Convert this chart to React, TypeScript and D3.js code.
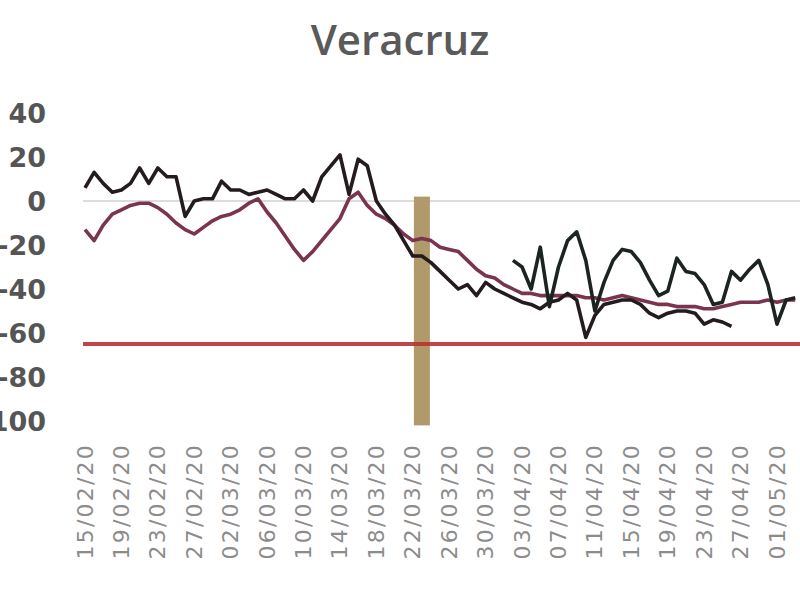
import React from "react";
import * as d3 from "d3";

const title = "Veracruz";
const startLabel = "15/02/20";
const tickLabels = [
  "15/02/20", "19/02/20", "23/02/20", "27/02/20", "02/03/20", "06/03/20",
  "10/03/20", "14/03/20", "18/03/20", "22/03/20", "26/03/20", "30/03/20",
  "03/04/20", "07/04/20", "11/04/20", "15/04/20", "19/04/20", "23/04/20",
  "27/04/20", "01/05/20",
];
const yTicks = [40, 20, 0, -20, -40, -60, -80, -100];

// Daily values starting 15/02/20 (black line)
const seriesA = [
  6, 13, 8, 4, 5, 8, 15, 8, 15, 11, 11, -7, 0, 1, 1, 9, 5, 5, 3, 4,
  5, 3, 1, 1, 5, 0, 11, 16, 21, 3, 19, 16, 0, -6, -11, -18, -25, -25, -28, -32,
  -36, -40, -38, -43, -37, -40, -42, -44, -46, -47, -49, -46, -45, -42, -45, -62,
  -52, -47, -46, -45, -45, -47, -51, -53, -51, -50, -50, -51, -56, -54, -55, -57,
];
// Daily values starting 15/02/20 (maroon line)
const seriesM = [
  -13, -18, -11, -6, -4, -2, -1, -1, -3, -6, -10, -13, -15, -12, -9, -7, -6, -4, -1, 1,
  -5, -10, -16, -22, -27, -23, -18, -13, -8, 1, 4, -2, -6, -8, -11, -15, -18, -17, -18, -21,
  -22, -23, -27, -31, -34, -35, -38, -40, -42, -42, -43, -43, -43, -43, -43, -44, -44, -45, -44, -43,
  -44, -45, -46, -47, -47, -48, -48, -48, -49, -49, -48, -47, -46, -46, -46, -45, -46, -45, -45,
];
// Daily values starting 02/04/20 (second black line)
const seriesBStart = "02/04/20";
const seriesB = [
  -27, -30, -40, -21, -48, -30, -18, -14, -27, -50, -37, -27, -22, -23, -28, -36,
  -43, -41, -26, -32, -33, -38, -47, -46, -32, -36, -31, -27, -38, -56, -45, -44,
];
const referenceLevel = -65;
const markerLabel = "23/03/20";
const yDomain = [-100, 40];

const parse = d3.timeParse("%d/%m/%y");

export default function App() {
  const W = 800;
  const H = 600;
  const start = parse(startLabel) as Date;
  const x = d3
    .scaleTime()
    .domain([parse(tickLabels[0]) as Date, parse(tickLabels[tickLabels.length - 1]) as Date])
    .range([85, 777]);
  const y = d3.scaleLinear().domain(yDomain).range([421, 113]);

  const toPts = (vals: number[], s: Date) =>
    vals.map((v, i) => ({ date: d3.timeDay.offset(s, i), v }));
  const line = d3
    .line<{ date: Date; v: number }>()
    .x((d) => x(d.date))
    .y((d) => y(d.v))
    .curve(d3.curveLinear);

  const ptsA = toPts(seriesA, start);
  const ptsM = toPts(seriesM, start);
  const ptsB = toPts(seriesB, parse(seriesBStart) as Date);
  const markerX = x(parse(markerLabel) as Date);
  const x0 = x(start) - 2;

  return (
    <div style={{ position: "fixed", left: 0, top: 0, width: W, height: H, background: "#fff" }}>
      <svg width={W} height={H} style={{ display: "block" }}>
        <rect x={0} y={0} width={W} height={H} fill="#fff" />
        <text
          x={400}
          y={55}
          textAnchor="middle"
          fontFamily="'Open Sans', sans-serif"
          fontWeight={600}
          fontSize={42}
          fill="#5a5a5a"
        >
          {title}
        </text>
        {yTicks.map((t) => (
          <text
            key={t}
            x={46}
            y={y(t)}
            textAnchor="end"
            dominantBaseline="central"
            fontFamily="'DejaVu Sans', sans-serif"
            fontWeight={700}
            fontSize={27}
            fill="#555"
          >
            {t}
          </text>
        ))}
        <line x1={x0} x2={W} y1={y(0)} y2={y(0)} stroke="#dcdcdc" strokeWidth={2} />
        <rect
          x={markerX - 8}
          width={16}
          y={y(2)}
          height={y(-102) - y(2)}
          fill="#b09a6c"
        />
        <line
          x1={x0}
          x2={W}
          y1={y(referenceLevel)}
          y2={y(referenceLevel)}
          stroke="#b83232"
          strokeOpacity={0.9}
          strokeWidth={4}
        />
        <path d={line(ptsM) || ""} fill="none" stroke="#7a3450" strokeWidth={3.6} strokeLinejoin="round" />
        <path d={line(ptsA) || ""} fill="none" stroke="#241b1f" strokeWidth={3.6} strokeLinejoin="round" />
        <path d={line(ptsB) || ""} fill="none" stroke="#1c2421" strokeWidth={3.6} strokeLinejoin="round" />
        {tickLabels.map((t) => {
          const tx = x(parse(t) as Date);
          return (
            <text
              key={t}
              transform={`translate(${tx},443) rotate(-90)`}
              textAnchor="end"
              dominantBaseline="central"
              fontFamily="'DejaVu Sans', sans-serif"
              fontSize={22}
              letterSpacing={2.2}
              fill="#8c8c8c"
            >
              {t}
            </text>
          );
        })}
      </svg>
    </div>
  );
}
